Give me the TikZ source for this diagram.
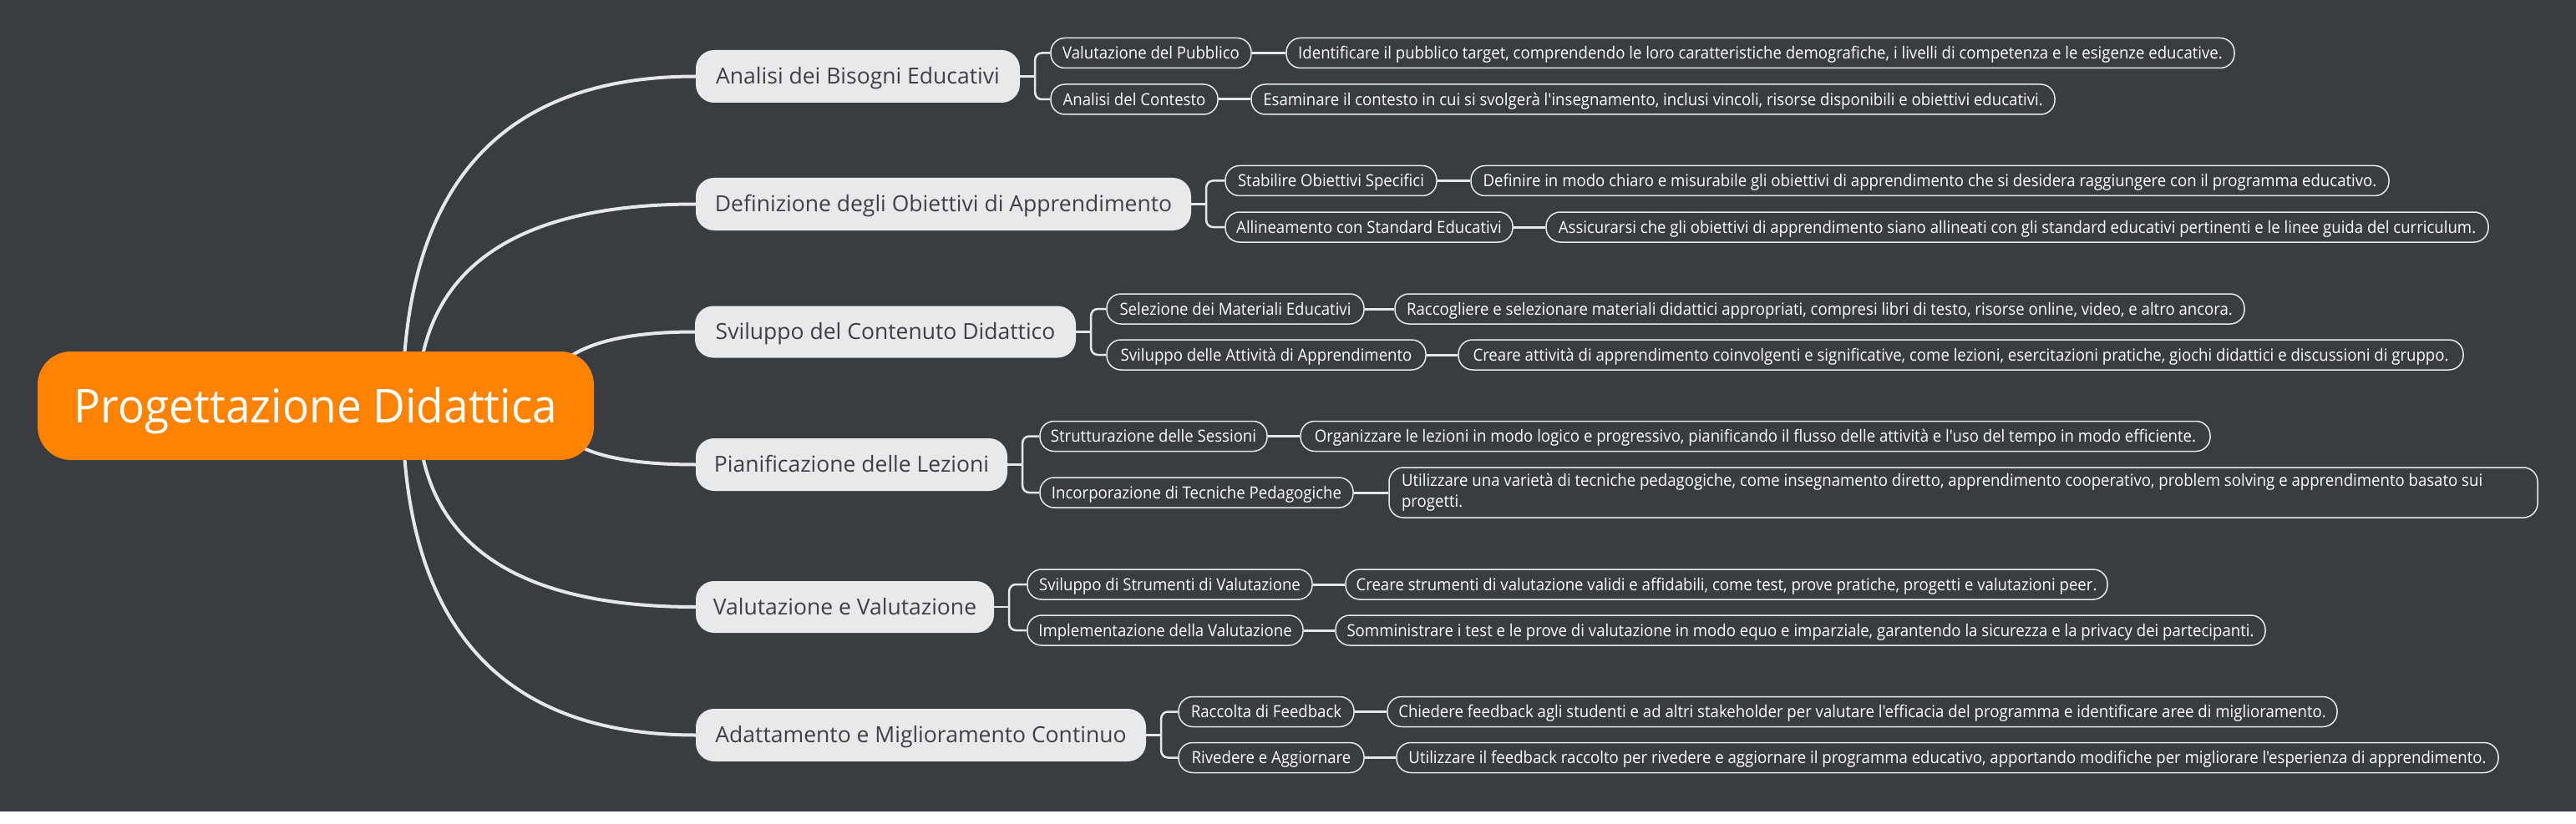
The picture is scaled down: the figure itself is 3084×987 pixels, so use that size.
\documentclass[tikz,border=0pt]{standalone}
\usepackage{fontspec}
\setmainfont{Open Sans}
\newfontfamily\subf[FakeStretch=0.93]{Open Sans}
\newfontfamily\rootf[FakeStretch=0.95]{Open Sans}
\usetikzlibrary{backgrounds,calc}
\definecolor{bg}{HTML}{393C41}
\definecolor{ln}{HTML}{E6E7E9}
\definecolor{mfill}{HTML}{E8E9EB}
\definecolor{mtext}{HTML}{3D4045}
\definecolor{rootc}{HTML}{FF8200}
\tikzset{
 rootbox/.style={fill=rootc, rounded corners=40pt, minimum width=666pt, minimum height=130pt, inner sep=0pt, text=white, text height=40pt, text depth=0pt, font=\rootf\fontsize{56}{60}\selectfont},
 mainbox/.style={fill=mfill, rounded corners=22pt, minimum height=63pt, inner sep=0pt, text=mtext, text height=18.9pt, text depth=0pt, font=\fontsize{26.5}{30}\selectfont},
 subbox/.style={draw=ln, line width=1.5pt, fill=bg, rounded corners=17pt, minimum height=36pt, inner sep=0pt, text=white, text height=14.3pt, text depth=0pt, font=\subf\fontsize{20}{25}\selectfont},
 descbox/.style={subbox},
 curve/.style={draw=ln, line width=4pt},
 brk/.style={draw=ln, line width=2.5pt, rounded corners=8pt},
 link/.style={draw=ln, line width=3pt},
}
\begin{document}
\begin{tikzpicture}[x=1pt,y=-1pt]
\useasboundingbox (0,0) rectangle (3084,987);
% root
\node[rootbox] (root) at (378,486) {Progettazione Didattica};
% main topics
\node[mainbox, minimum width=388pt] (m1) at (1027,91.5) {Analisi dei Bisogni Educativi};
\node[mainbox, minimum width=593pt] (m2) at (1129.5,244.5) {Definizione degli Obiettivi di Apprendimento};
\node[mainbox, minimum width=456pt, minimum height=62pt] (m3) at (1060,397.5) {Sviluppo del Contenuto Didattico};
\node[mainbox, minimum width=373pt] (m4) at (1019.5,556.5) {Pianificazione delle Lezioni};
\node[mainbox, minimum width=357pt, minimum height=62pt] (m5) at (1011.5,727) {Valutazione e Valutazione};
\node[mainbox, minimum width=539pt] (m6) at (1102.5,880.5) {Adattamento e Miglioramento Continuo};
% subtopics and descriptions
\node[subbox, minimum width=240pt] (s11) at (1378,63.5) {Valutazione del Pubblico};
\node[descbox, minimum width=1135pt] (d11) at (2107.5,63.5) {Identificare il pubblico target, comprendendo le loro caratteristiche demografiche, i livelli di competenza e le esigenze educative.};
\node[subbox, minimum width=200pt] (s12) at (1358,119) {Analisi del Contesto};
\node[descbox, minimum width=962pt] (d12) at (1979,119) {Esaminare il contesto in cui si svolgerà l'insegnamento, inclusi vincoli, risorse disponibili e obiettivi educativi.};
\node[subbox, minimum width=253pt] (s21) at (1593.5,216.5) {Stabilire Obiettivi Specifici};
\node[descbox, minimum width=1099pt] (d21) at (2310.5,216.5) {Definire in modo chiaro e misurabile gli obiettivi di apprendimento che si desidera raggiungere con il programma educativo.};
\node[subbox, minimum width=344pt] (s22) at (1639,272) {Allineamento con Standard Educativi};
\node[descbox, minimum width=1128pt] (d22) at (2415,272) {Assicurarsi che gli obiettivi di apprendimento siano allineati con gli standard educativi pertinenti e le linee guida del curriculum.};
\node[subbox, minimum width=308pt] (s31) at (1479,370) {Selezione dei Materiali Educativi};
\node[descbox, minimum width=1017pt] (d31) at (2178.5,370) {Raccogliere e selezionare materiali didattici appropriati, compresi libri di testo, risorse online, video, e altro ancora.};
\node[subbox, minimum width=382pt] (s32) at (1516,425) {Sviluppo delle Attività di Apprendimento};
\node[descbox, minimum width=1203pt] (d32) at (2347.5,425) {Creare attività di apprendimento coinvolgenti e significative, come lezioni, esercitazioni pratiche, giochi didattici e discussioni di gruppo.};
\node[subbox, minimum width=272pt] (s41) at (1381,522.5) {Strutturazione delle Sessioni};
\node[descbox, minimum width=1089pt] (d41) at (2101.5,522.5) {Organizzare le lezioni in modo logico e progressivo, pianificando il flusso delle attività e l'uso del tempo in modo efficiente.};
\node[subbox, minimum width=375pt] (s42) at (1432.5,590) {Incorporazione di Tecniche Pedagogiche};
\node[descbox, minimum width=1375pt, minimum height=60pt, text height=, text depth=, align=flush left, text width=1345pt] (d42) at (2350.5,590) {Utilizzare una varietà di tecniche pedagogiche, come insegnamento diretto, apprendimento cooperativo, problem solving e apprendimento basato sui\\progetti.};
\node[subbox, minimum width=341pt] (s51) at (1400.5,700) {Sviluppo di Strumenti di Valutazione};
\node[descbox, minimum width=912pt] (d51) at (2067,700) {Creare strumenti di valutazione validi e affidabili, come test, prove pratiche, progetti e valutazioni peer.};
\node[subbox, minimum width=330pt] (s52) at (1395,755) {Implementazione della Valutazione};
\node[descbox, minimum width=1113pt] (d52) at (2155.5,755) {Somministrare i test e le prove di valutazione in modo equo e imparziale, garantendo la sicurezza e la privacy dei partecipanti.};
\node[subbox, minimum width=210pt] (s61) at (1516,852.5) {Raccolta di Feedback};
\node[descbox, minimum width=1137pt] (d61) at (2229.5,852.5) {Chiedere feedback agli studenti e ad altri stakeholder per valutare l'efficacia del programma e identificare aree di miglioramento.};
\node[subbox, minimum width=222pt] (s62) at (1522,907.5) {Rivedere e Aggiornare};
\node[descbox, minimum width=1319pt] (d62) at (2331.5,907.5) {Utilizzare il feedback raccolto per rivedere e aggiornare il programma educativo, apportando modifiche per migliorare l'esperienza di apprendimento.};
\begin{pgfonlayer}{background}
\fill[bg] (0,0) rectangle (3084,972);
\fill[white] (0,972) rectangle (3084,987);
% root to main topics
\draw[curve] (root.center) -- ($(root.center)+(104,0)$) .. controls (482,223) and (599,91.5) .. (m1.west);
\draw[curve] (root.center) -- ($(root.center)+(122,0)$) .. controls (500,325) and (612,244.5) .. (m2.west);
\draw[curve] (root.center) -- ($(root.center)+(272,0)$) .. controls (650,427) and (711,397.5) .. (m3.west);
\draw[curve] (root.center) -- ($(root.center)+(282,0)$) .. controls (660,533) and (718,556.5) .. (m4.west);
\draw[curve] (root.center) -- ($(root.center)+(122,0)$) .. controls (500,647) and (612,727) .. (m5.west);
\draw[curve] (root.center) -- ($(root.center)+(104,0)$) .. controls (482,749) and (599,880.5) .. (m6.west);
% brackets
\foreach \m/\a/\b in {m1/s11/s12, m2/s21/s22, m3/s31/s32, m4/s41/s42, m5/s51/s52, m6/s61/s62}{
  \draw[brk] (\m.east) -- ++(18,0) coordinate (j\m);
  \draw[brk] (j\m) |- (\a.west);
  \draw[brk] (j\m) |- (\b.west);
}
% sub to description
\foreach \s/\d in {s11/d11, s12/d12, s21/d21, s22/d22, s31/d31, s32/d32, s41/d41, s42/d42, s51/d51, s52/d52, s61/d61, s62/d62}{
  \draw[link] (\s.east) -- (\d.west);
}
\end{pgfonlayer}
\end{tikzpicture}
\end{document}
